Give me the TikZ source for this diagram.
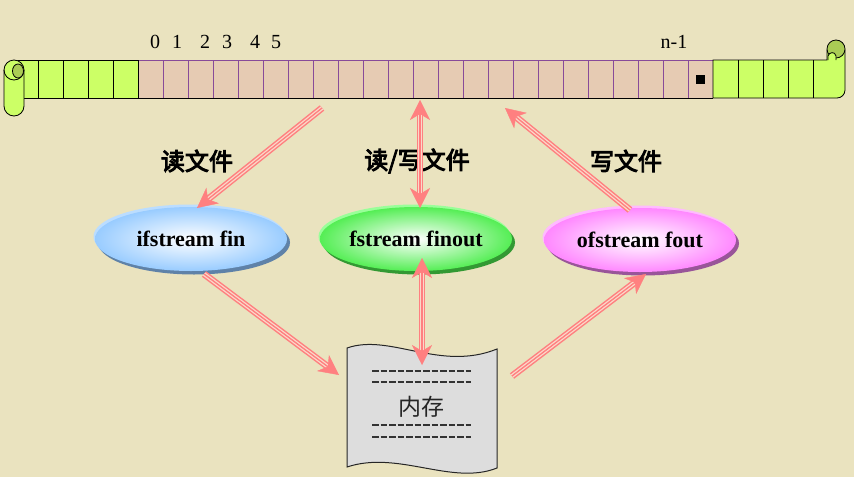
\documentclass[tikz,border=0pt]{standalone}
\usepackage{fontspec}
\setmainfont{Liberation Serif}
\newfontfamily\cjk{Noto Sans CJK SC}
\newfontfamily\cjkb[FakeBold=4]{Noto Sans CJK SC}
\usetikzlibrary{arrows.meta,shapes.geometric,shadows}
\definecolor{bg}{HTML}{EAE3BF}
\definecolor{tgreen}{HTML}{CCFF66}
\definecolor{dgreen}{HTML}{AACC55}
\definecolor{ttan}{HTML}{E6CBB3}
\definecolor{tline}{HTML}{884A99}
\definecolor{apink}{HTML}{FF8080}
\definecolor{apale}{HTML}{FBD8C8}
\definecolor{eblue}{HTML}{99CCFF}
\definecolor{eblueR}{HTML}{BBDDFF}
\definecolor{eblueS}{HTML}{5F82A8}
\definecolor{egreen}{HTML}{55EE55}
\definecolor{egreenR}{HTML}{99FF99}
\definecolor{egreenS}{HTML}{339933}
\definecolor{epink}{HTML}{FF88FF}
\definecolor{epinkR}{HTML}{FFBBFF}
\definecolor{epinkS}{HTML}{995599}
\definecolor{docgray}{HTML}{DDDDDD}
\tikzset{
  pshaft/.style={draw=apink, line width=1.5pt, double=apale, double distance=3.9pt},
  pcore/.style={draw=apink, line width=1.3pt},
  ptip/.style={draw=apink, fill=apink, line width=0.4pt},
  bubble/.style={ellipse, minimum width=192pt, minimum height=64pt, inner sep=0pt,
    font=\bfseries\fontsize{22}{24}\selectfont, shading=radial, inner color=white},
  cjklabel/.style={font=\cjkb\fontsize{24}{26}\selectfont},
  digit/.style={font=\fontsize{20}{22}\selectfont, inner sep=0pt},
  cellline/.style={draw=tline, line width=0.8pt},
  gline/.style={draw=black, line width=0.8pt},
  dashline/.style={draw=black!80, line width=1.4pt, dash pattern=on 6.5pt off 2pt},
}
\newcommand\pipeone[2]{%
  \draw[pshaft, shorten >=13pt] (#1) -- (#2);
  \draw[pcore, shorten >=13pt] (#1) -- (#2);
  \draw[ptip, -{Stealth[length=20pt,width=20pt,inset=6pt]}] (#1) -- (#2);}
\newcommand\pipetwo[2]{%
  \draw[pshaft, shorten >=13pt, shorten <=13pt] (#1) -- (#2);
  \draw[pcore, shorten >=13pt, shorten <=13pt] (#1) -- (#2);
  \draw[ptip, {Stealth[length=20pt,width=20pt,inset=6pt]}-{Stealth[length=20pt,width=20pt,inset=6pt]}] (#1) -- (#2);}
\begin{document}
\begin{tikzpicture}[x=1pt,y=-1pt]
\useasboundingbox (0,0) rectangle (854,477);
\fill[bg] (0,0) rectangle (854,477);

% ---- tape ----
\fill[ttan] (138,60) rectangle (713,98);
\foreach \x in {163,188,...,688} \draw[cellline] (\x,60) -- (\x,98);
\draw[cellline] (138,60) -- (713,60);
% left green
\draw[gline, fill=tgreen] (14,60) rectangle (138,98);
\foreach \x in {38,63,88,113} \draw[gline] (\x,60) -- (\x,98);
\draw[gline] (138,98) -- (713,98);
% left roll
\draw[gline, fill=tgreen, rounded corners=10pt] (4,60) rectangle (24,116);
\draw[gline] (4,70) arc (180:0:10);
\draw[gline, fill=dgreen] (18,71) ellipse (5.5 and 7);
% right green
\draw[gline, fill=tgreen] (713,60) -- (827,60) -- (827,50) -- (845,50) -- (845,90) arc (0:90:8) -- (713,98) -- cycle;
\foreach \x in {738,763,788,813} \draw[gline] (\x,60) -- (\x,98);
\draw[gline, fill=dgreen] (836,49) circle (9);
\draw[gline, fill=tgreen] (828,60) -- (828,56) .. controls (829,52) and (835,51) .. (836,56) -- (836,60);
\fill[black] (696,75) rectangle (705,84);

% ---- indices ----
\node[digit] (i0) at (155,42) {0};
\node[digit] (i1) at (177,42) {1};
\node[digit] (i2) at (205,42) {2};
\node[digit] (i3) at (227,42) {3};
\node[digit] (i4) at (255,42) {4};
\node[digit] (i5) at (276,42) {5};
\node[digit] (in) at (674,42) {n-1};

% ---- labels ----
\node[cjklabel] (lr) at (197,161) {读文件};
\node[cjklabel] (lrw) at (417,161) {读/写文件};
\node[cjklabel] (lw) at (626,161) {写文件};

% ---- stream ellipses ----
\node[bubble, outer color=eblue,
  general shadow={shadow xshift=3pt, shadow yshift=-3.5pt, fill=eblueS},
  general shadow={shadow xshift=-1.5pt, shadow yshift=2.5pt, fill=eblueR}]
  (fin) at (191,239) {ifstream fin};
\node[bubble, outer color=egreen,
  general shadow={shadow xshift=3pt, shadow yshift=-3.5pt, fill=egreenS},
  general shadow={shadow xshift=-1.5pt, shadow yshift=2.5pt, fill=egreenR}]
  (finout) at (416,239) {fstream finout};
\node[bubble, outer color=epink,
  general shadow={shadow xshift=3pt, shadow yshift=-3.5pt, fill=epinkS},
  general shadow={shadow xshift=-1.5pt, shadow yshift=2.5pt, fill=epinkR}]
  (fout) at (640,240) {ofstream fout};

% ---- memory document ----
\draw[fill=docgray, draw=black!85, line width=1pt]
  (347,348) .. controls (390,333) and (440,372) .. (497,349)
  -- (497,468) .. controls (452,486) and (398,450) .. (347,467) -- cycle;
\draw[dashline] (372,371) -- (471,371);
\draw[dashline] (372,382) -- (471,382);
\draw[dashline] (372,425) -- (471,425);
\draw[dashline] (372,437) -- (471,437);
\node[font=\cjk\fontsize{23}{26}\selectfont, text=black!85] (mem) at (421,407) {内存};

% ---- arrows ----
\coordinate (r1s) at (322,108);
\coordinate (r1e) at (197,208);
\coordinate (rwa) at (420,100);
\coordinate (rwb) at (420,208);
\coordinate (w1s) at (630,210);
\coordinate (w1e) at (505,108);
\coordinate (m1s) at (204,274);
\coordinate (m1e) at (339,375);
\coordinate (mwa) at (422,258);
\coordinate (mwb) at (422,365);
\coordinate (m2s) at (512,376);
\coordinate (m2e) at (646,274);
\pipeone{r1s}{r1e}
\pipetwo{rwa}{rwb}
\pipeone{w1s}{w1e}
\pipeone{m1s}{m1e}
\pipetwo{mwa}{mwb}
\pipeone{m2s}{m2e}
\end{tikzpicture}
\end{document}
